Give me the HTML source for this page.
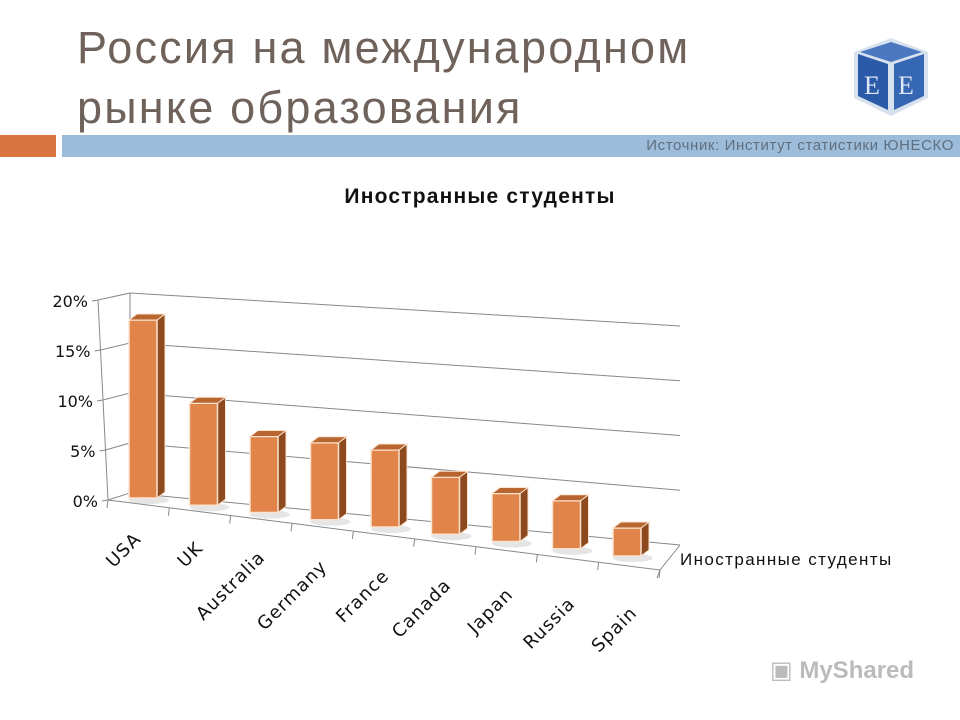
<!DOCTYPE html>
<html><head><meta charset="utf-8"><style>
body{margin:0;width:960px;height:720px;background:#fff;overflow:hidden;font-family:"Liberation Sans","DejaVu Sans",sans-serif;position:relative}
.t{position:absolute;left:77px;color:#6f625a;font-size:45px;line-height:60px;letter-spacing:2.2px}
</style></head><body>
<div class="t" style="top:18px">Россия на международном<br>рынке образования</div>
<svg style="position:absolute;left:852px;top:36px" width="78" height="82" viewBox="0 0 78 82">
<polygon points="39,2 76,16 76,62 39,80 2,62 2,16" fill="#d8e2ee"/>
<polygon points="6,18 36,28 36,74 6,60" fill="#2b5aa8"/>
<polygon points="42,28 72,18 72,60 42,74" fill="#3567b5"/>
<polygon points="39,6 70,16 39,26 8,16" fill="#4a78c0"/>
<text x="12" y="58" font-size="26" fill="#dfe8f4" font-family="Liberation Serif">E</text>
<text x="46" y="58" font-size="26" fill="#dfe8f4" font-family="Liberation Serif">E</text>
</svg>
<div style="position:absolute;left:0;top:135px;width:56px;height:22px;background:#d9743e"></div>
<div style="position:absolute;left:62px;top:135px;width:898px;height:22px;background:#9dbcd9;color:#5f6f80;font-size:15px;letter-spacing:0.6px;line-height:22px;text-align:right;box-sizing:border-box;padding-right:6px">Источник: Институт статистики ЮНЕСКО</div>
<div style="position:absolute;left:0;width:960px;top:185px;text-align:center;font-weight:bold;font-size:21px;letter-spacing:1.2px;color:#111">Иностранные студенты</div>
<svg id="ch" style="position:absolute;left:0;top:0" width="960" height="720"></svg>
<div style="position:absolute;left:770px;top:656px;font-size:24px;color:#bbb;font-weight:bold">▣ MyShared</div>
<script>
const categories=["USA","UK","Australia","Germany","France","Canada","Japan","Russia","Spain"];
const values=[17.8,10.2,7.6,7.7,7.7,5.7,4.8,4.8,2.8];
const ticks=[0,5,10,15,20];
const tickLabels=["0%","5%","10%","15%","20%"];
const legendLabel="Иностранные студенты";
const svg=document.getElementById('ch');const NS="http://www.w3.org/2000/svg";
function mk(tag,a,p){const e=document.createElementNS(NS,tag);for(const k in a)e.setAttribute(k,a[k]);(p||svg).appendChild(e);return e;}
const n=categories.length;
function backY(v,t){return (493-v*10)*(1-t)+(545-v*10.95)*t;}
function backX(t){return 130+550*t;}
function frontX(v){return 108-v*0.5;}
function frontY(v){return 500-v*10;}
function barX(i){return 143+i*(484/(n-1));}
function barBase(i){return 498+i*(58/(n-1));}
function pxPer(i){return 10;}
ticks.forEach((v,k)=>{
 const g=mk('line',{x1:backX(0),y1:backY(v,0),x2:backX(1),y2:backY(v,1),stroke:'#888','stroke-width':1});
 
 const s=mk('line',{x1:frontX(v),y1:frontY(v),x2:backX(0),y2:backY(v,0),stroke:'#888','stroke-width':1});
 
 mk('line',{x1:frontX(v)-6,y1:frontY(v)+1,x2:frontX(v),y2:frontY(v),stroke:'#888'});
 const t=mk('text',{x:frontX(v)-10,y:frontY(v)+7,'text-anchor':'end','font-size':16,fill:'#111','font-family':'DejaVu Sans, sans-serif'});
 t.textContent=tickLabels[k];
});
mk('line',{x1:frontX(20),y1:frontY(20),x2:frontX(0),y2:frontY(0),stroke:'#888'});
mk('line',{x1:backX(0),y1:backY(0,0),x2:backX(0),y2:backY(20,0),stroke:'#888'});
const fe=mk('polyline',{points:`108,500 660,570 680,545`,fill:'none',stroke:'#888'});

mk('line',{x1:660,y1:570,x2:657,y2:578,stroke:'#888'});
for(let i=0;i<=n;i++){const x=108+i*(552/n);const y=500+i*(70/n);mk('line',{x1:x,y1:y,x2:x-1,y2:y+8,stroke:'#888'});}
categories.forEach((c,i)=>{
 const cx=barX(i),b=barBase(i),h=values[i]*pxPer(i),w=28,d=8,u=6;
 const x0=cx-w/2,top=b-h;
 const g=mk('g',{});
 mk('ellipse',{cx:cx+6,cy:b+2,rx:20,ry:4,fill:'#ccc',opacity:0.5},g);
 mk('polygon',{points:`${x0+w},${top} ${x0+w+d},${top-u} ${x0+w+d},${b-u} ${x0+w},${b}`,fill:'#8e4a1f',stroke:'#fbe3cf','stroke-width':1},g);
 mk('rect',{x:x0,y:top,width:w,height:h,fill:'#e0844a',stroke:'#fbe3cf','stroke-width':1.5},g);
 mk('polygon',{points:`${x0},${top} ${x0+d},${top-u} ${x0+w+d},${top-u} ${x0+w},${top}`,fill:'#b8652f',stroke:'#fbe3cf','stroke-width':1},g);
 const tx=cx-1+i*1.5,ty=b+42+i*2;
 const t=mk('text',{x:tx,y:ty,'text-anchor':'end','font-size':18,'letter-spacing':1,fill:'#111','font-family':'DejaVu Sans, sans-serif',transform:`rotate(-45 ${tx} ${ty})`});
 t.textContent=c;
});
const lg=mk('text',{x:680,y:565,'font-size':17,'letter-spacing':1.4,fill:'#111'});lg.textContent=legendLabel;

</script>
</body></html>
